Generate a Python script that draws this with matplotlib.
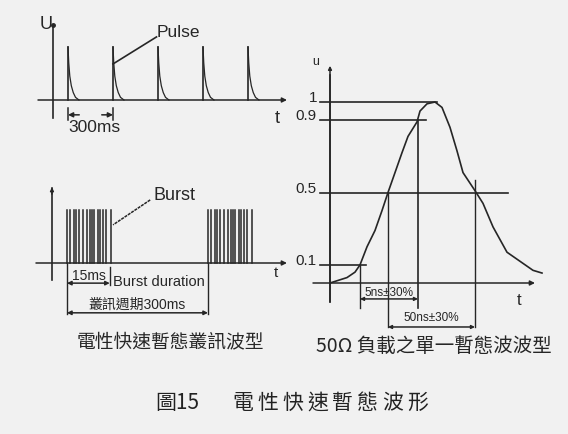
import matplotlib
matplotlib.use("Agg")
import matplotlib.pyplot as plt

plt.rcParams['font.family'] = ['Liberation Sans', 'Noto Sans CJK TC', 'DejaVu Sans']

W, H = 568, 434
INK = '#262626'
BG = '#f1f1f1'

# pulse train (time in ms, amplitude normalised)
pulse_times = [0, 300, 600, 900, 1200]
tail_t = [0, 5, 12, 22, 35, 50, 73]
tail_u = [1.0, 0.7, 0.45, 0.27, 0.14, 0.05, 0.0]

# burst (schematic time units, burst period = 300)
burst_starts = [0, 300]
burst_offsets = [0, 7, 14, 19, 26, 33, 42, 48, 53, 58, 65, 70, 77, 84, 94]
burst_dur_end = 91

# single transient waveform (schematic time, u normalised)
wave_t = [0, 17, 25, 30, 37, 45, 52, 58, 65, 72, 78, 87, 90, 97, 105, 112,
          120, 127, 133, 145, 153, 163, 177, 190, 203, 212]
wave_u = [0.0, 0.03, 0.06, 0.10, 0.20, 0.29, 0.40, 0.50, 0.61, 0.72, 0.81,
          0.89, 0.95, 0.99, 1.0, 0.97, 0.86, 0.73, 0.61, 0.51, 0.44, 0.31,
          0.17, 0.12, 0.07, 0.055]
levels = [1.0, 0.9, 0.5, 0.1]
level_labels = ['1', '0.9', '0.5', '0.1']
level_ends = [107, 96, 178, 36]
t10, t50r, t90, t50f = 30, 58, 88, 145


def panel(fig, x0, sx, y0, sy):
    # axes over the whole figure, data mapped so that px = x0 + t*sx, py = y0 - u*sy
    ax = fig.add_axes([0, 0, 1, 1])
    ax.set_xlim((0 - x0) / sx, (W - x0) / sx)
    ax.set_ylim((y0 - H) / sy, y0 / sy)
    ax.axis('off')
    ax.patch.set_alpha(0)
    return ax


def arrow(ax, p0, p1, style='-|>', ms=7):
    ax.annotate('', xy=p1, xytext=p0,
                arrowprops=dict(arrowstyle=style, color=INK, lw=1.1,
                                mutation_scale=ms, shrinkA=0, shrinkB=0))


fig = plt.figure(figsize=(W / 100, H / 100), dpi=100, facecolor=BG)

# ---- pulse panel
ax1 = panel(fig, 68, 0.15, 100, 53)
arrow(ax1, (-200, 0), (1460, 0))
ax1.plot([-100, -100], [-0.34, 1.40], color=INK, lw=1.2)
ax1.plot([-100], [1.41], marker='o', ms=2.5, color=INK)
for p in pulse_times:
    ax1.plot([p, p], [0, 1], color=INK, lw=1.2)
    ax1.plot([p + t for t in tail_t], tail_u, color=INK, lw=0.9)
ax1.text(-190, 1.42, 'U', fontsize=13, color=INK, va='center')
ax1.text(1380, -0.34, 't', fontsize=13, color=INK, va='center')
ax1.text(593, 1.27, 'Pulse', fontsize=12.5, color=INK, va='center')
ax1.plot([590, 300], [1.19, 0.68], color=INK, lw=1.2)
for p in [0, 300]:
    ax1.plot([p, p], [-0.15, -0.38], color=INK, lw=1.1)
arrow(ax1, (75, -0.28), (0, -0.28))
arrow(ax1, (225, -0.28), (300, -0.28))
ax1.text(0, -0.52, '300ms', fontsize=12.5, color=INK, va='center')

# ---- burst panel
ax2 = panel(fig, 67, 0.47, 263, 53)
arrow(ax2, (-66, 0), (468, 0))
ax2.plot([-32, -32], [-0.32, 1.42], color=INK, lw=1.2)
arrow(ax2, (-32, 1.3), (-32, 1.43), ms=5)
for s in burst_starts:
    for o in burst_offsets:
        ax2.plot([s + o, s + o], [0, 1], color=INK, lw=1.1)
ax2.text(185, 1.28, 'Burst', fontsize=13, color=INK, va='center')
ax2.plot([177, 98], [1.19, 0.72], color=INK, lw=1.1, ls=(0, (2, 0.6)))
ax2.text(440, -0.19, 't', fontsize=11, color=INK, va='center')
for t in [0, 300]:
    ax2.plot([t, t], [0, -0.96], color=INK, lw=1.0)
ax2.plot([burst_dur_end, burst_dur_end], [-0.08, -0.42], color=INK, lw=1.0)
arrow(ax2, (0, -0.38), (burst_dur_end, -0.38), style='<|-|>', ms=6)
ax2.text(46, -0.245, '15ms', fontsize=10, color=INK, ha='center', va='center')
ax2.text(98, -0.36, 'Burst duration', fontsize=10.5, color=INK, va='center')
ax2.text(150, -0.79, '叢訊週期300ms', fontsize=10, color=INK, ha='center', va='center')
arrow(ax2, (0, -0.94), (300, -0.94), style='<|-|>', ms=6)

# ---- single transient panel
ax3 = panel(fig, 330, 1.0, 283, 181)
arrow(ax3, (-17, 0), (205, 0))
arrow(ax3, (0, -0.105), (0, 1.2), ms=5)
ax3.plot([0, 0], [-0.105, 1.15], color=INK, lw=1.2)
ax3.text(-14, 1.22, 'u', fontsize=9, color=INK, ha='center', va='center')
ax3.text(187, -0.095, 't', fontsize=12, color=INK, va='center')
ax3.plot(wave_t, wave_u, color=INK, lw=1.2)
for v, lab, e in zip(levels, level_labels, level_ends):
    ax3.plot([-10, e], [v, v], color=INK, lw=1.2)
    ax3.text(-13, v + 0.02, lab, fontsize=11, color=INK, ha='right', va='center')
ax3.plot([t10, t10], [0.1, -0.138], color=INK, lw=1.0)
ax3.plot([t90, t90], [0.9, -0.138], color=INK, lw=1.2)
ax3.plot([t50r, t50r], [0.5, -0.243], color=INK, lw=1.0)
ax3.plot([t50f, t50f], [0.57, -0.243], color=INK, lw=1.0)
arrow(ax3, (t10, -0.088), (t90, -0.088), style='<|-|>', ms=5)
ax3.text((t10 + t90) / 2, -0.055, '5ns±30%', fontsize=8.5, color=INK,
         ha='center', va='center')
arrow(ax3, (t50r, -0.243), (t50f, -0.243), style='<|-|>', ms=5)
ax3.text((t50r + t50f) / 2, -0.195, '50ns±30%', fontsize=8.5, color=INK,
         ha='center', va='center')

# ---- titles
fig.text(170 / W, 1 - 342 / H, '電性快速暫態叢訊波型', fontsize=13.5, color=INK,
         ha='center', va='center', family=['Noto Sans CJK TC'])
fig.text(434 / W, 1 - 347 / H, '50Ω 負載之單一暫態波波型', fontsize=14, color=INK,
         ha='center', va='center', family=['Noto Sans CJK TC', 'DejaVu Sans'])

cap_chars = '電性快速暫態波形'
fig.text(155 / W, 1 - 403 / H, '圖15', fontsize=15, color='#222222',
         va='center', family=['Noto Sans CJK TC'])
for i, ch in enumerate(cap_chars):
    fig.text((232 + 25 * i) / W, 1 - 403 / H, ch, fontsize=15, color='#222222',
             va='center', family=['Noto Sans CJK TC'])

fig.savefig('out.png', dpi=100, facecolor=BG)
